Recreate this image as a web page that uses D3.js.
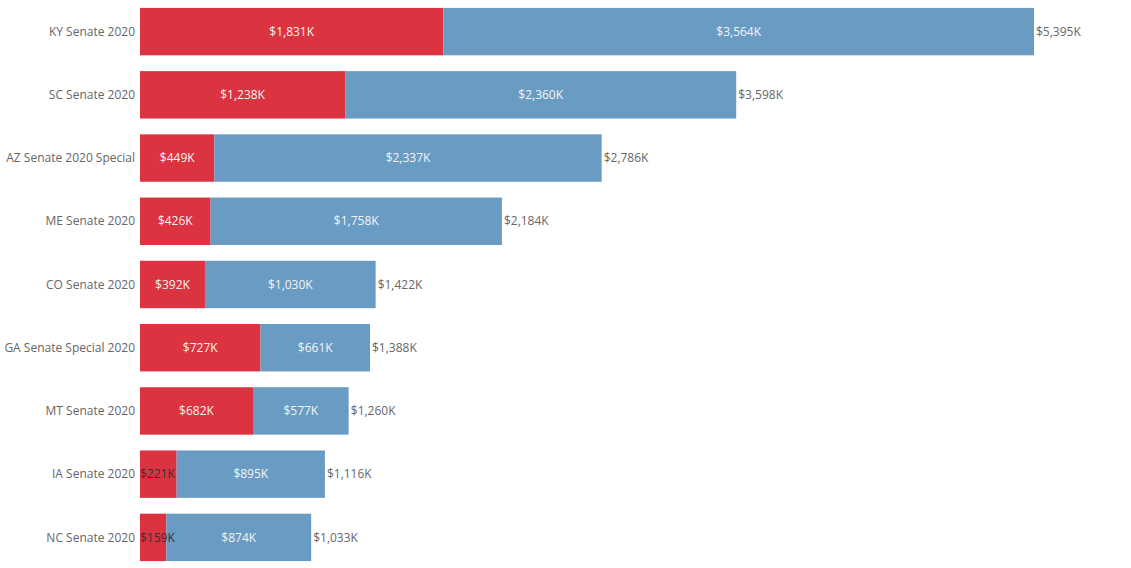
<!DOCTYPE html>
<html>
<head>
<meta charset="utf-8">
<script src="https://cdn.jsdelivr.net/npm/d3@7"></script>
<style>
  body { margin: 0; background: #fff; }
  text { font-family: "Open Sans", sans-serif; font-size: 12px; }
</style>
</head>
<body>
<script>
const races = [
  "KY Senate 2020",
  "SC Senate 2020",
  "AZ Senate 2020 Special",
  "ME Senate 2020",
  "CO Senate 2020",
  "GA Senate Special 2020",
  "MT Senate 2020",
  "IA Senate 2020",
  "NC Senate 2020"
];
const republican = [1831, 1238, 449, 426, 392, 727, 682, 221, 159];
const democrat = [3564, 2360, 2337, 1758, 1030, 661, 577, 895, 874];
const totals = [5395, 3598, 2786, 2184, 1422, 1388, 1260, 1116, 1033];

const width = 1131;
const height = 568;
const margin = { left: 140 };

const fmt = (v) => "$" + d3.format(",")(v) + "K";

const svg = d3
  .select("body")
  .append("svg")
  .attr("width", width)
  .attr("height", height);

const x = d3.scaleLinear().domain([0, 5395]).range([margin.left, 1034]);

const y = d3
  .scaleBand()
  .domain(races)
  .range([0, 569])
  .paddingInner(0.25)
  .paddingOuter(0.125);

const rows = races.map((r, i) => ({
  race: r,
  rep: republican[i],
  dem: democrat[i],
  total: totals[i]
}));

// category labels
svg
  .append("g")
  .selectAll("text")
  .data(rows)
  .join("text")
  .attr("x", margin.left - 5)
  .attr("y", (d) => y(d.race) + y.bandwidth() / 2)
  .attr("dy", "0.35em")
  .attr("text-anchor", "end")
  .attr("fill", "#666")
  .text((d) => d.race);

const row = svg
  .append("g")
  .selectAll("g")
  .data(rows)
  .join("g")
  .attr("transform", (d) => `translate(0,${y(d.race)})`);

row
  .append("rect")
  .attr("x", x(0))
  .attr("width", (d) => x(d.rep) - x(0))
  .attr("height", y.bandwidth())
  .attr("fill", "#dc3340");

row
  .append("rect")
  .attr("x", (d) => x(d.rep))
  .attr("width", (d) => x(d.rep + d.dem) - x(d.rep))
  .attr("height", y.bandwidth())
  .attr("fill", "#6a9bc3");

// dem labels
row
  .append("text")
  .attr("x", (d) => (x(d.rep) + x(d.rep + d.dem)) / 2)
  .attr("y", y.bandwidth() / 2)
  .attr("dy", "0.35em")
  .attr("text-anchor", "middle")
  .attr("fill", "#f4f4f4")
  .text((d) => fmt(d.dem));

// rep labels; if they don't fit, push to the left edge in dark
row
  .append("text")
  .attr("y", y.bandwidth() / 2)
  .attr("dy", "0.35em")
  .text((d) => fmt(d.rep))
  .each(function (d) {
    const w = this.getComputedTextLength();
    const segW = x(d.rep) - x(0);
    const t = d3.select(this);
    if (w + 4 > segW) {
      t.attr("x", x(0)).attr("text-anchor", "start").attr("fill", "#333");
    } else {
      t.attr("x", x(0) + segW / 2)
        .attr("text-anchor", "middle")
        .attr("fill", "#f4f4f4");
    }
  });

// totals
row
  .append("text")
  .attr("x", (d) => x(d.total) + 2)
  .attr("y", y.bandwidth() / 2)
  .attr("dy", "0.35em")
  .attr("fill", "#666")
  .text((d) => fmt(d.total));
</script>
</body>
</html>
